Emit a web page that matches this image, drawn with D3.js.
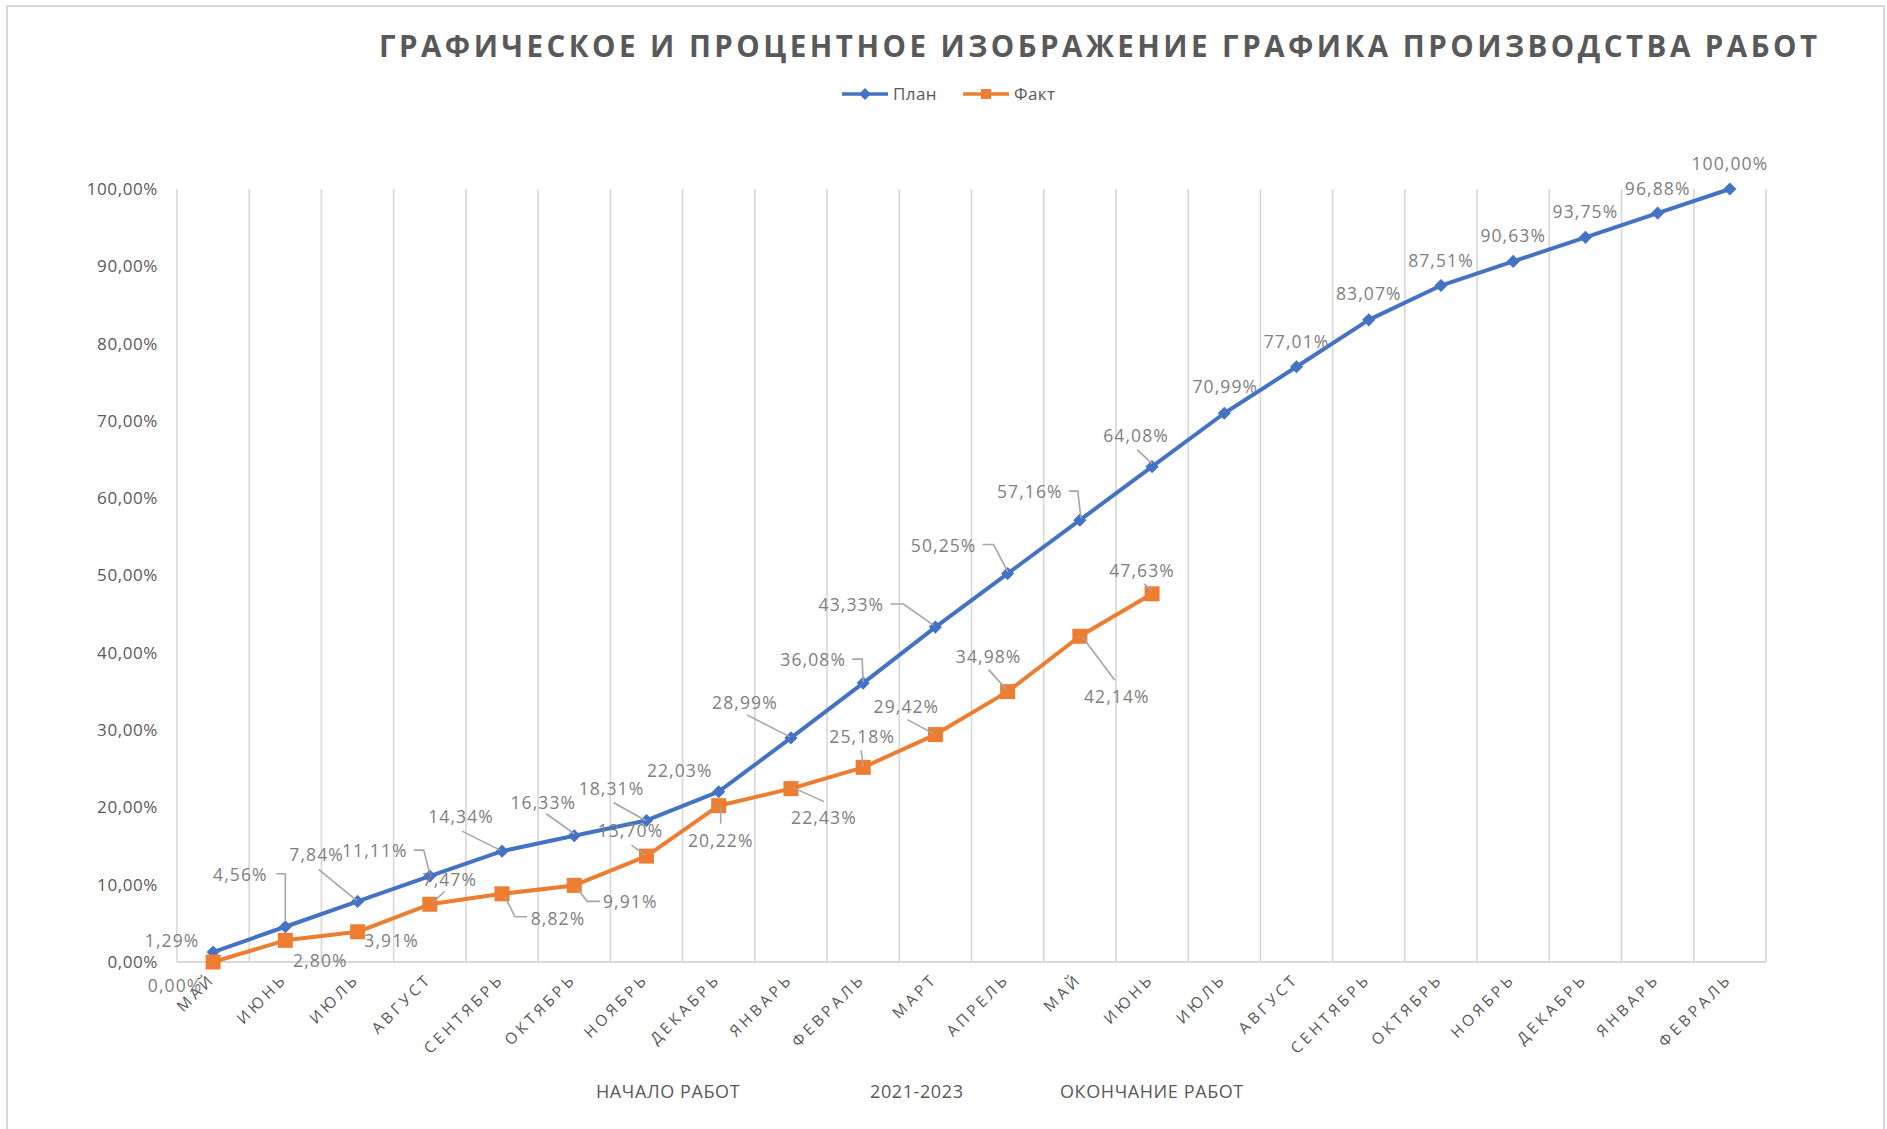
<!DOCTYPE html>
<html>
<head>
<meta charset="utf-8">
<script src="https://cdn.jsdelivr.net/npm/d3@7"></script>
<style>
  body { margin: 0; background: #fff; }
  svg { display: block; font-family: "Open Sans", "DejaVu Sans", sans-serif; }
</style>
</head>
<body>
<svg width="1887" height="1129"></svg>
<script>
// data
const months = ["МАЙ", "ИЮНЬ", "ИЮЛЬ", "АВГУСТ", "СЕНТЯБРЬ", "ОКТЯБРЬ", "НОЯБРЬ", "ДЕКАБРЬ",
    "ЯНВАРЬ", "ФЕВРАЛЬ", "МАРТ", "АПРЕЛЬ", "МАЙ", "ИЮНЬ", "ИЮЛЬ", "АВГУСТ", "СЕНТЯБРЬ",
    "ОКТЯБРЬ", "НОЯБРЬ", "ДЕКАБРЬ", "ЯНВАРЬ", "ФЕВРАЛЬ"];
const planValues = [1.29, 4.56, 7.84, 11.11, 14.34, 16.33, 18.31, 22.03, 28.99, 36.08, 43.33,
    50.25, 57.16, 64.08, 70.99, 77.01, 83.07, 87.51, 90.63, 93.75, 96.88, 100.00];
const factValues = [0.00, 2.80, 3.91, 7.47, 8.82, 9.91, 13.70, 20.22, 22.43, 25.18, 29.42,
    34.98, 42.14, 47.63];
const yTicks = [0, 10, 20, 30, 40, 50, 60, 70, 80, 90, 100];
const seriesNames = ["План", "Факт"];
const chartTitle = "ГРАФИЧЕСКОЕ И ПРОЦЕНТНОЕ ИЗОБРАЖЕНИЕ ГРАФИКА ПРОИЗВОДСТВА РАБОТ";
const bottomNotes = ["НАЧАЛО РАБОТ", "2021-2023", "ОКОНЧАНИЕ РАБОТ"];

// label placement (offset of label centre from its point, leader line points)
const planLabelLayout = [
    [-41, -12, null],
    [-45, -53, [[-9, -53], [0, -53], [0, -5]]],
    [-41, -47, [[-39, -32], [-1, -1]]],
    [-55, -26, [[-16, -26], [-6, -26], [0, -2]]],
    [-41, -35, [[-40, -20], [-2, -1]]],
    [-31, -34, [[-28, -22], [0, -2]]],
    [-35, -32, [[-33, -18], [-1, 0]]],
    [-39, -22, null],
    [-46, -36, [[-44, -23], [-1, -1]]],
    [-50, -24, [[-11, -24], [-1, -24], [0, -1]]],
    [-84, -23, [[-45, -23], [-32, -23], [-2, -2]]],
    [-64, -29, [[-25, -29], [-14, -29], [0, -2]]],
    [-50, -29, [[-11, -29], [-2, -29], [1, -2]]],
    [-16, -32, [[-15, -17], [0, -3]]],
    [1, -27, null], [0, -26, null], [0, -27, null], [0, -26, null],
    [0, -26, null], [0, -26, null], [0, -25, null], [0, -26, null]
];
const factLabelLayout = [
    [-38, 23, null],
    [35, 20, null],
    [34, 8, null],
    [20, -25, [[15, -13], [3, -2]]],
    [56, 24, [[3, 3], [13, 23], [25, 23]]],
    [56, 16, [[3, 3], [13, 16], [26, 16]]],
    [-16, -26, [[-15, -11], [-1, -1]]],
    [2, 34, [[2, 1], [2, 18]]],
    [33, 28, [[2, -1], [33, 13]]],
    [-1, -31, [[-2, -17], [0, -1]]],
    [-29, -29, [[-28, -15], [-2, -1]]],
    [-19, -36, [[-19, -22], [-1, -2]]],
    [37, 60, [[2, 0], [35, 44]]],
    [-10, -24, [[-8, -10], [0, -3]]]
];

const planColor = "#4472C4", factColor = "#ED7D31";
const svg = d3.select("svg");
const fmt = v => v.toFixed(2).replace(".", ",") + "%";

const x = d3.scaleBand().domain(d3.range(months.length)).range([177, 1766]);
const y = d3.scaleLinear().domain([0, 100]).range([962, 189]);
const cx = i => x(i) + x.bandwidth() / 2;

// frame
svg.append("path")
    .attr("d", "M7,1129 V6 H1884 V1129")
    .attr("fill", "none").attr("stroke", "#D9D9D9").attr("stroke-width", 2);

// title
svg.append("text")
    .attr("x", 379).attr("y", 57)
    .attr("textLength", 1438).attr("lengthAdjust", "spacing")
    .attr("font-size", 29.5).attr("font-weight", "bold")
    .attr("fill", "#595959")
    .text(chartTitle);

// legend
const legend = svg.append("g");
[[842, planColor], [963, factColor]].forEach(([lx, c], k) => {
    legend.append("line").attr("x1", lx).attr("x2", lx + 46).attr("y1", 94).attr("y2", 94)
        .attr("stroke", c).attr("stroke-width", 3.5);
    if (k === 0) {
        legend.append("path").attr("d", d3.symbol(d3.symbolDiamond2, 90)())
            .attr("transform", `translate(${lx + 23},94)`).attr("fill", c);
    } else {
        legend.append("rect").attr("x", lx + 23 - 5).attr("y", 89).attr("width", 10).attr("height", 10).attr("fill", c);
    }
    legend.append("text").attr("x", lx + 51).attr("y", 100)
        .attr("font-size", 17).attr("letter-spacing", 0.4).attr("fill", "#595959").text(seriesNames[k]);
});

// vertical gridlines
const grid = svg.append("g");
grid.selectAll("line")
    .data(d3.range(months.length + 1))
    .enter().append("line")
    .attr("x1", i => x.range()[0] + i * x.step())
    .attr("x2", i => x.range()[0] + i * x.step())
    .attr("y1", y(100)).attr("y2", y(0))
    .attr("stroke", "#D9D9D9").attr("stroke-width", 1.7);

// x axis line
svg.append("line")
    .attr("x1", x.range()[0]).attr("x2", x.range()[1])
    .attr("y1", y(0)).attr("y2", y(0))
    .attr("stroke", "#D9D9D9").attr("stroke-width", 2);

// y axis
const yAxis = svg.append("g")
    .attr("transform", `translate(${x.range()[0]},0)`)
    .call(d3.axisLeft(y).tickValues(yTicks).tickFormat(d => fmt(d)).tickSize(0).tickPadding(19));
yAxis.select(".domain").remove();
yAxis.selectAll("text")
    .attr("font-family", "'Open Sans', sans-serif")
    .attr("font-size", 17).attr("letter-spacing", 0.6).attr("fill", "#595959");

// x tick labels
svg.append("g").selectAll("text")
    .data(months)
    .enter().append("text")
    .attr("transform", (d, i) => `translate(${cx(i) + 3},${y(0) + 18}) rotate(-45)`)
    .attr("text-anchor", "end")
    .attr("font-size", 15.5).attr("letter-spacing", 3.6)
    .attr("fill", "#595959")
    .text(d => d);

// lines
const line = d3.line().x((d, i) => cx(i)).y(d => y(d));
svg.append("path").datum(planValues).attr("d", line)
    .attr("fill", "none").attr("stroke", planColor).attr("stroke-width", 4).attr("stroke-linejoin", "round");
svg.append("path").datum(factValues).attr("d", line)
    .attr("fill", "none").attr("stroke", factColor).attr("stroke-width", 4).attr("stroke-linejoin", "round");

// leader lines and labels
function drawLabels(values, layout) {
    const g = svg.append("g");
    values.forEach((v, i) => {
        const px = cx(i), py = y(v);
        const [dx, dy, leader] = layout[i];
        if (leader) {
            g.append("polyline")
                .attr("points", leader.map(p => `${px + p[0]},${py + p[1]}`).join(" "))
                .attr("fill", "none").attr("stroke", "#A6A6A6").attr("stroke-width", 1.6);
        }
        g.append("text")
            .attr("x", px + dx).attr("y", py + dy)
            .attr("text-anchor", "middle").attr("dominant-baseline", "central")
            .attr("font-size", 17.5).attr("letter-spacing", 1.1)
            .attr("fill", "#808080")
            .text(fmt(v));
    });
}

// markers
svg.append("g").selectAll("path")
    .data(planValues)
    .enter().append("path")
    .attr("d", d3.symbol(d3.symbolDiamond2, 110)())
    .attr("transform", (d, i) => `translate(${cx(i)},${y(d)})`)
    .attr("fill", planColor);
svg.append("g").selectAll("rect")
    .data(factValues)
    .enter().append("rect")
    .attr("x", (d, i) => cx(i) - 7.5).attr("y", d => y(d) - 7.5)
    .attr("width", 15).attr("height", 15)
    .attr("fill", factColor);

drawLabels(planValues, planLabelLayout);
drawLabels(factValues, factLabelLayout);

// notes under the axis
const noteX = [596, 870, 1060];
svg.append("g").selectAll("text")
    .data(bottomNotes)
    .enter().append("text")
    .attr("x", (d, i) => noteX[i]).attr("y", 1098)
    .attr("font-size", 18).attr("letter-spacing", 0.6).attr("fill", "#595959")
    .text(d => d);
</script>
</body>
</html>
